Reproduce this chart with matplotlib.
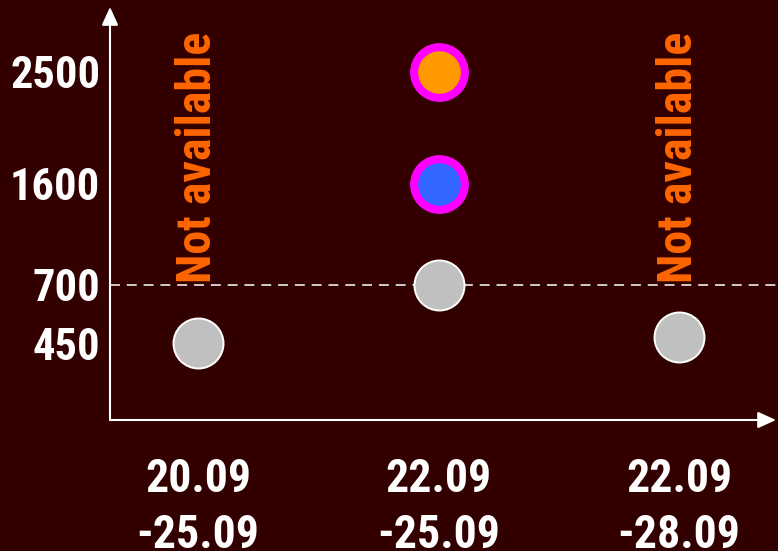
import numpy as np
import matplotlib
matplotlib.use('Agg')
import matplotlib.pyplot as plt
from matplotlib import font_manager as fm
from matplotlib.transforms import blended_transform_factory

# ---- data ----
categories = ['20.09\n-25.09', '22.09\n-25.09', '22.09\n-28.09']
y_ticks = [450, 700, 1600, 2500]
y_tick_labels = ['450', '700', '1600', '2500']
gray_values = [450, 700, 475]
blue_values = [np.nan, 1600, np.nan]
orange_values = [np.nan, 2500, np.nan]
not_available = [True, False, True]
threshold = 700

# non-linear axis breaks (value -> height of axis)
scale_values = [0, 450, 700, 1600, 2500, 3000]
scale_pos = [0, 77, 135.5, 236, 348, 413]

names = {f.name for f in fm.fontManager.ttflist}
family = next((n for n in ['Roboto Condensed', 'PT Sans Narrow', 'Liberation Sans'] if n in names), 'DejaVu Sans')

BG = '#330000'
W, H = 778, 551
fig = plt.figure(figsize=(W / 100, H / 100), dpi=100, facecolor=BG)
left, right, bottom, top = 110, 776, 420, 7
ax = fig.add_axes([left / W, (H - bottom) / H, (right - left) / W, (bottom - top) / H])
ax.set_facecolor(BG)

def fwd(v):
    return np.interp(v, scale_values, scale_pos)

def inv(p):
    return np.interp(p, scale_pos, scale_values)

ax.set_yscale('function', functions=(fwd, inv))
ax.set_ylim(0, 3000)
ax.set_xlim(-0.366, 2.403)

for s in ax.spines.values():
    s.set_visible(False)

x = np.arange(len(categories))

# dashed threshold line
ax.axhline(threshold, xmin=0, xmax=1.01, color='white', lw=1.1, dashes=(6.5, 4.5), clip_on=False, zorder=1)

ax.plot(x, gray_values, linestyle='none', marker='o', ms=36, mfc='#C0C0C0', mec='white', mew=1.4, zorder=3, clip_on=False)
ax.plot(x, blue_values, linestyle='none', marker='o', ms=36.5, mfc='#3366FF', mec='#FF00FF', mew=5.8, zorder=3, clip_on=False)
ax.plot(x, orange_values, linestyle='none', marker='o', ms=36.5, mfc='#FF9900', mec='#FF00FF', mew=5.8, zorder=3, clip_on=False)

trans = blended_transform_factory(ax.transData, ax.transAxes)
for xi, na in zip(x, not_available):
    if na:
        ax.text(xi, 0.637, 'Not available', rotation=90, ha='center', va='center', color='#FF6600',
                fontsize=34.5, fontweight='bold', family=family, transform=trans)

# axes arrows
arrow = dict(arrowstyle='-|>,head_length=1.1,head_width=0.5', color='white', lw=1.5,
             mutation_scale=10, shrinkA=0, shrinkB=0)
ax.annotate('', xy=(1, 0), xytext=(0, 0), xycoords='axes fraction', arrowprops=arrow)
ax.annotate('', xy=(0, 1), xytext=(0, 0), xycoords='axes fraction', arrowprops=arrow)

ax.set_xticks(x)
ax.set_xticklabels(categories, fontsize=33, fontweight='bold', family=family, color='white', linespacing=1.36)
ax.set_yticks(y_ticks)
ax.set_yticklabels(y_tick_labels, fontsize=32, fontweight='bold', family=family, color='white')
ax.tick_params(axis='both', length=0)
ax.tick_params(axis='x', pad=26.5)
ax.tick_params(axis='y', pad=7)

fig.savefig('out.png', dpi=100, facecolor=BG)
